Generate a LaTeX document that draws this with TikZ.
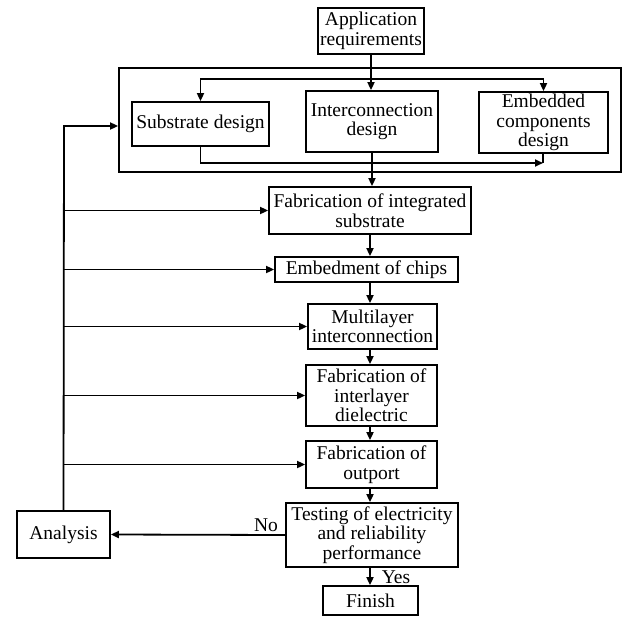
\documentclass[tikz,border=0pt]{standalone}
\usepackage{fontspec}
\setmainfont{Liberation Serif}
\usetikzlibrary{arrows.meta}
\begin{document}
\begin{tikzpicture}[x=1pt,y=-1pt,
  box/.style={draw,line width=1.8pt,inner sep=0pt,align=center,
    font=\fontsize{19.5}{19.5}\selectfont},
  arr/.style={line width=1.8pt,-{Triangle[length=8pt,width=7pt]}},
  ln/.style={line width=1.8pt},
  lbl/.style={inner sep=0pt,font=\fontsize{19.5}{19.5}\selectfont}]
\useasboundingbox (0,0) rectangle (624,616);
\node[box,minimum width=106pt,minimum height=46pt] (app) at (371,31) {Application\\requirements};
\node[draw,line width=1.8pt,minimum width=502pt,minimum height=104pt,inner sep=0pt] (outer) at (370,120) {};
\node[box,minimum width=137pt,minimum height=44pt] (sub) at (200.5,124) {Substrate design};
\node[box,minimum width=132pt,minimum height=61pt] (inter) at (372,121.5) {Interconnection\\design};
\node[box,minimum width=129pt,minimum height=61pt] (emb) at (543.5,122.5) {Embedded\\components\\design};
\node[box,minimum width=202pt,minimum height=47pt] (fab1) at (370,210.5) {Fabrication of integrated\\substrate};
\node[box,minimum width=183pt,minimum height=25pt] (chips) at (366.5,269.5) {Embedment of chips};
\node[box,minimum width=129pt,minimum height=45pt] (multi) at (372.5,326.5) {Multilayer\\interconnection};
\node[box,minimum width=131pt,minimum height=61pt] (diel) at (371.5,395.5) {Fabrication of\\interlayer\\dielectric};
\node[box,minimum width=131pt,minimum height=47pt] (outp) at (371.5,464.5) {Fabrication of\\outport};
\node[box,minimum width=172pt,minimum height=64pt] (test) at (372,535) {Testing of electricity\\and reliability\\performance};
\node[box,minimum width=93pt,minimum height=47pt] (analysis) at (63.5,534.5) {Analysis};
\node[box,minimum width=95pt,minimum height=29pt] (finish) at (370.5,600.5) {Finish};
\node[lbl] (no) at (266,525) {No};
\node[lbl] (yes) at (396,577) {Yes};
\coordinate (cx) at (370,0);
\coordinate (top) at (371,79);
\coordinate (bj) at (543,163);
\coordinate (fbtop) at (64,126);
% top distribution
\draw[arr] (app.south) -- (app.south |- inter.north);
\draw[arr] (top) -| (sub.north);
\draw[arr] (top) -| (emb.north);
\draw[arr] (sub.south) |- (bj);
\draw[ln] (emb.south -| bj) -- (bj);
\draw[arr] (inter.south) -- (inter.south |- fab1.north);
% main chain
\draw[arr] (fab1.south -| cx) -- (chips.north -| cx);
\draw[arr] (chips.south -| cx) -- (multi.north -| cx);
\draw[arr] (multi.south -| cx) -- (diel.north -| cx);
\draw[arr] (diel.south -| cx) -- (outp.north -| cx);
\draw[arr] (outp.south -| cx) -- (test.north -| cx);
\draw[arr] (test.south -| cx) -- (finish.north -| cx);
\draw[arr] (test.west) -- (analysis.east);
% feedback
\draw[arr] (analysis.north) -- (fbtop) -- (outer.west |- fbtop);
\draw[arr] (analysis.north |- fab1.west) -- (fab1.west);
\draw[arr] (analysis.north |- chips.west) -- (chips.west);
\draw[arr] (analysis.north |- multi.west) -- (multi.west);
\draw[arr] (analysis.north |- diel.west) -- (diel.west);
\draw[arr] (analysis.north |- outp.west) -- (outp.west);
\end{tikzpicture}
\end{document}
